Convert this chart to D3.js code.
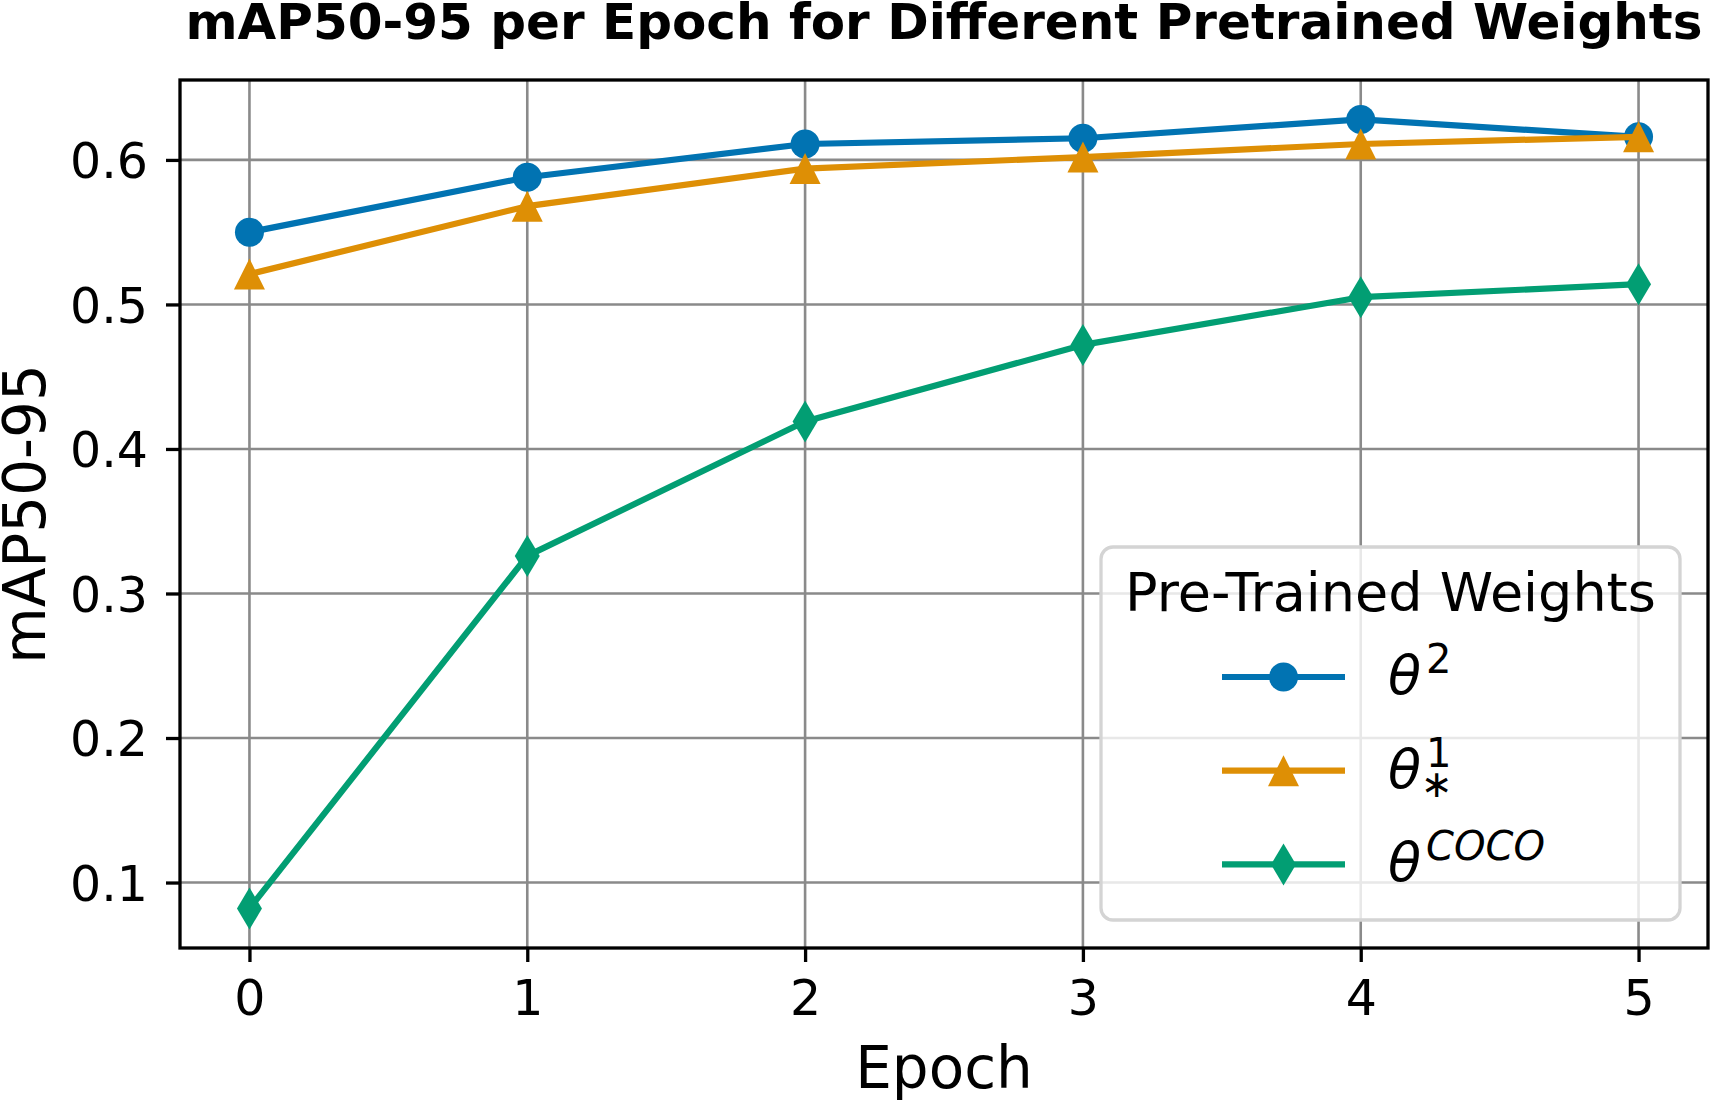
<!DOCTYPE html>
<html>
<head>
<meta charset="utf-8">
<script src="https://cdn.jsdelivr.net/npm/d3@7"></script>
<style>
  html, body { margin: 0; padding: 0; background: #fff; }
  svg { display: block; font-family: 'DejaVu Sans', sans-serif; }
</style>
</head>
<body>
<div id="chart"></div>
<script>
// values
const epochs = [0, 1, 2, 3, 4, 5]
const theta2 = [0.550, 0.588, 0.611, 0.615, 0.628, 0.616]
const theta1star = [0.521, 0.568, 0.594, 0.602, 0.611, 0.616]
const thetaCoco = [0.082, 0.326, 0.419, 0.472, 0.505, 0.514]
const yTicks = [0.1, 0.2, 0.3, 0.4, 0.5, 0.6]
const xTicks = [0, 1, 2, 3, 4, 5]

const series = [
  { key: 'theta2', values: theta2, color: '#0173b2', marker: 'circle', label: { base: 'θ', sup: '2', supItalic: false } },
  { key: 'theta1star', values: theta1star, color: '#de8f05', marker: 'triangle', label: { base: 'θ', sup: '1', sub: '∗', supItalic: false } },
  { key: 'thetaCoco', values: thetaCoco, color: '#029e73', marker: 'diamond', label: { base: 'θ', sup: 'COCO', supItalic: true } }
]

const W = 1711, H = 1101
const plot = { left: 180, right: 1708, top: 80, bottom: 948 }
const spineW = 3.3
const tickLen = 14
const tickFont = 49
const labelFont = 58

const svg = d3.select('#chart').append('svg').attr('width', W).attr('height', H)

// matplotlib style 5% margins
const pad = (lo, hi) => [lo - (hi - lo) * 0.05, hi + (hi - lo) * 0.05]
const allY = series.flatMap(s => s.values)
const xScale = d3.scaleLinear().domain(pad(d3.min(epochs), d3.max(epochs))).range([plot.left, plot.right])
const yScale = d3.scaleLinear().domain(pad(d3.min(allY), d3.max(allY))).range([plot.bottom, plot.top])

// grid
const grid = svg.append('g').attr('stroke', '#8a8a8a').attr('stroke-width', 2.6)
grid.selectAll('.gx').data(xTicks).join('line')
  .attr('x1', d => xScale(d)).attr('x2', d => xScale(d))
  .attr('y1', plot.top).attr('y2', plot.bottom)
grid.selectAll('.gy').data(yTicks).join('line')
  .attr('y1', d => yScale(d)).attr('y2', d => yScale(d))
  .attr('x1', plot.left).attr('x2', plot.right)

// markers, ink sizes measured on the reference
const markerPath = (type, cx, cy) => {
  const p = d3.path()
  if (type === 'circle') {
    p.arc(cx, cy, 14.5, 0, Math.PI * 2)
  } else if (type === 'triangle') {
    const h = 15.5
    p.moveTo(cx, cy - h); p.lineTo(cx + h, cy + h); p.lineTo(cx - h, cy + h); p.closePath()
  } else {
    const hw = 12.5, hh = 21
    p.moveTo(cx, cy - hh); p.lineTo(cx + hw, cy); p.lineTo(cx, cy + hh); p.lineTo(cx - hw, cy); p.closePath()
  }
  return p.toString()
}

const line = d3.line().x((d, i) => xScale(epochs[i])).y(d => yScale(d))

series.forEach(s => {
  const g = svg.append('g').attr('class', 'series ' + s.key)
  g.append('path')
    .attr('d', line(s.values))
    .attr('fill', 'none')
    .attr('stroke', s.color)
    .attr('stroke-width', 6.2)
    .attr('stroke-linejoin', 'round')
  g.selectAll('.mk').data(s.values).join('path')
    .attr('d', (d, i) => markerPath(s.marker, xScale(epochs[i]), yScale(d)))
    .attr('fill', s.color)
})

// spines
svg.append('rect')
  .attr('x', plot.left).attr('y', plot.top)
  .attr('width', plot.right - plot.left).attr('height', plot.bottom - plot.top)
  .attr('fill', 'none').attr('stroke', '#000').attr('stroke-width', spineW)

// x axis
const xAxis = svg.append('g').attr('transform', `translate(0,${plot.bottom})`)
d3.axisBottom(xScale).tickValues(xTicks).tickSize(tickLen).tickPadding(16).tickFormat(d3.format('d'))(xAxis)
xAxis.select('.domain').remove()
xAxis.selectAll('.tick line').attr('stroke', '#000').attr('stroke-width', spineW)
xAxis.selectAll('.tick text').attr('font-size', tickFont).attr('fill', '#000')
  .attr('font-family', 'DejaVu Sans').attr('dy', null).attr('y', 67)

// y axis
const yAxis = svg.append('g').attr('transform', `translate(${plot.left},0)`)
d3.axisLeft(yScale).tickValues(yTicks).tickSize(tickLen).tickPadding(18).tickFormat(d3.format('.1f'))(yAxis)
yAxis.select('.domain').remove()
yAxis.selectAll('.tick line').attr('stroke', '#000').attr('stroke-width', spineW)
yAxis.selectAll('.tick text').attr('font-size', tickFont).attr('fill', '#000')
  .attr('font-family', 'DejaVu Sans').attr('dy', '0.3645em')

const midX = (plot.left + plot.right) / 2
const midY = (plot.top + plot.bottom) / 2

svg.append('text')
  .attr('x', midX).attr('y', 1088)
  .attr('text-anchor', 'middle').attr('font-size', labelFont)
  .text('Epoch')

svg.append('text')
  .attr('transform', `translate(45,${midY}) rotate(-90)`)
  .attr('text-anchor', 'middle').attr('font-size', labelFont)
  .text('mAP50-95')

svg.append('text')
  .attr('x', midX).attr('y', 39)
  .attr('text-anchor', 'middle').attr('font-size', 50).attr('font-weight', 'bold')
  .text('mAP50-95 per Epoch for Different Pretrained Weights')

// legend, anchored lower right
const lg = { w: 579, h: 373, inset: 28 }
lg.x = plot.right - lg.inset - lg.w
lg.y = plot.bottom - lg.inset - lg.h
const legend = svg.append('g').attr('transform', `translate(${lg.x},${lg.y})`)
legend.append('rect')
  .attr('x', 0).attr('y', 0).attr('width', lg.w).attr('height', lg.h)
  .attr('rx', 12).attr('ry', 12)
  .attr('fill', 'rgba(255,255,255,0.8)')
  .attr('stroke', '#d4d4d4').attr('stroke-width', 3.3)

legend.append('text')
  .attr('x', lg.w / 2).attr('y', 64)
  .attr('text-anchor', 'middle').attr('font-size', 54)
  .text('Pre-Trained Weights')

const rows = legend.selectAll('.row').data(series).join('g')
  .attr('transform', (d, i) => `translate(0,${130 + i * 93.7})`)

rows.append('line')
  .attr('x1', 121).attr('x2', 244).attr('y1', 0).attr('y2', 0)
  .attr('stroke', d => d.color).attr('stroke-width', 6.2)
rows.append('path')
  .attr('d', d => markerPath(d.marker, 182.5, 0))
  .attr('fill', d => d.color)

rows.each(function (d) {
  const row = d3.select(this)
  const labelX = 287
  const base = row.append('text')
    .attr('x', labelX).attr('y', 17)
    .attr('font-size', 54).attr('font-style', 'italic')
    .text(d.label.base)
  const baseLen = base.node().getComputedTextLength()
  row.append('text')
    .attr('x', labelX + baseLen + 5).attr('y', -4)
    .attr('font-size', 40).attr('font-style', d.label.supItalic ? 'italic' : 'normal')
    .text(d.label.sup)
  if (d.label.sub) {
    row.append('text')
      .attr('x', labelX + baseLen).attr('y', 26)
      .attr('font-size', 38)
      .text(d.label.sub)
  }
})
</script>
</body>
</html>
